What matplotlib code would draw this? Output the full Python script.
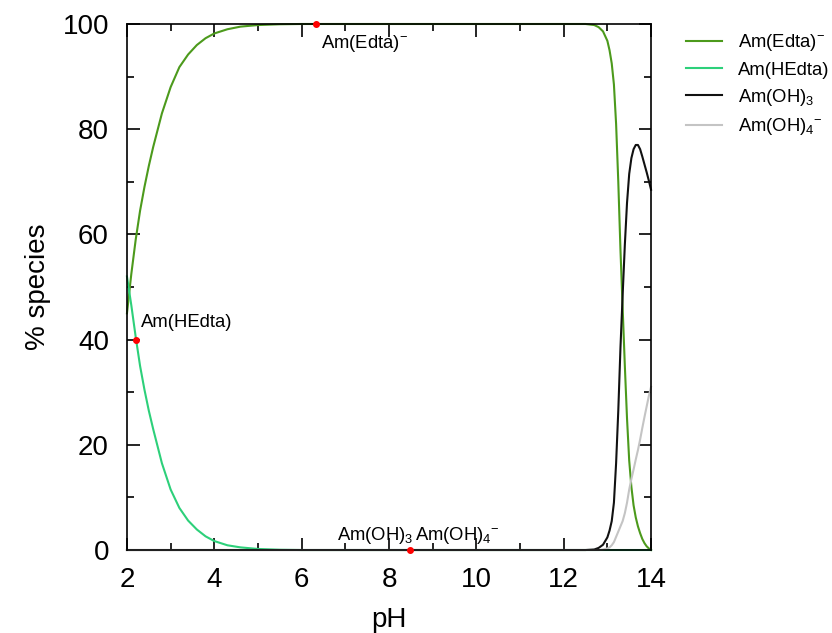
import matplotlib
matplotlib.use("Agg")
import matplotlib.pyplot as plt
from matplotlib.ticker import MultipleLocator

plt.rcParams['font.family'] = ['Liberation Sans', 'DejaVu Sans']
plt.rcParams['mathtext.fontset'] = 'custom'
plt.rcParams['mathtext.rm'] = 'Liberation Sans'
plt.rcParams['mathtext.default'] = 'regular'

# data (percent of Am species vs pH)
ph = [2.0, 2.1, 2.2, 2.3, 2.4, 2.5, 2.6, 2.8, 3.0, 3.2, 3.4, 3.6, 3.8,
      4.0, 4.3, 4.6, 5.0, 5.5, 6.0, 7.0, 8.0, 9.0, 10.0, 11.0, 12.0,
      12.5, 12.7, 12.8, 12.9, 13.0, 13.05, 13.1, 13.15, 13.2, 13.25,
      13.3, 13.35, 13.4, 13.45, 13.5, 13.55, 13.6, 13.65, 13.7, 13.75,
      13.8, 13.85, 13.9, 13.95, 14.0]

am_edta = [45, 52.5, 59, 64.5, 69, 73, 76.6, 83, 88, 91.8, 94.2, 96, 97.3,
           98.2, 99, 99.5, 99.8, 99.95, 100, 100, 100, 100, 100, 100, 100,
           100, 99.8, 99.4, 98.6, 96.8, 95, 92.5, 88.5, 81, 70,
           57, 46, 35, 25, 17, 12, 8.5, 6.2, 4.5, 3.2,
           2.1, 1.3, 0.7, 0.3, 0]

am_hedta = [52, 46.5, 40.5, 35, 30.5, 26.5, 23, 16.5, 11.5, 8, 5.6, 3.9, 2.6,
            1.7, 0.9, 0.5, 0.2, 0.05, 0, 0, 0, 0, 0, 0, 0,
            0, 0, 0, 0, 0, 0, 0, 0, 0, 0,
            0, 0, 0, 0, 0, 0, 0, 0, 0, 0,
            0, 0, 0, 0, 0]

am_oh3 = [0, 0, 0, 0, 0, 0, 0, 0, 0, 0, 0, 0, 0,
          0, 0, 0, 0, 0, 0, 0, 0, 0, 0, 0, 0,
          0, 0.1, 0.4, 1.0, 2.4, 3.7, 5.5, 9, 16.5, 26.5,
          38.5, 48.5, 58, 66, 71.5, 74.5, 76.2, 77, 77, 76.2,
          74.8, 73.3, 71.8, 70.2, 68.5]

am_oh4 = [0, 0, 0, 0, 0, 0, 0, 0, 0, 0, 0, 0, 0,
          0, 0, 0, 0, 0, 0, 0, 0, 0, 0, 0, 0,
          0, 0, 0, 0.1, 0.3, 0.5, 0.9, 1.5, 2.5, 3.5,
          4.5, 5.5, 7, 9, 11.5, 13.5, 15.3, 17.2, 19, 21,
          23.2, 25.3, 27.3, 29.3, 31]

labels = [r'Am(Edta)$^{-}$', 'Am(HEdta)', r'Am(OH)$_{3}$', r'Am(OH)$_{4}$$^{-}$']
colors = ['#4c9a1c', '#2dd07a', '#111111', '#c4c4c4']

# label anchor points (red dots)
dot_x = [6.33, 2.21, 8.48]
dot_y = [100, 40, 0]

fig = plt.figure(figsize=(8.32, 6.33), dpi=100)
ax = fig.add_axes([0.1526, 0.1311, 0.6299, 0.831])

for ys, lab, col in zip([am_edta, am_hedta, am_oh3, am_oh4], labels, colors):
    ax.plot(ph, ys, color=col, lw=1.5, label=lab, clip_on=False)

ax.plot(dot_x, dot_y, 'o', color='red', ms=4, clip_on=False, zorder=5)

fs = 13.3
ax.text(6.44, 96.3, labels[0], fontsize=fs, va='center', ha='left')
ax.text(2.32, 43.3, labels[1], fontsize=fs, va='center', ha='left')
ax.text(8.57, 2.8, labels[2], fontsize=fs, va='center', ha='right')
ax.text(8.6, 2.8, labels[3], fontsize=fs, va='center', ha='left')

ax.set_xlim(2, 14)
ax.set_ylim(0, 100)
ax.xaxis.set_major_locator(MultipleLocator(2))
ax.xaxis.set_minor_locator(MultipleLocator(1))
ax.yaxis.set_major_locator(MultipleLocator(20))
ax.yaxis.set_minor_locator(MultipleLocator(10))
ax.tick_params(which='both', direction='in', top=True, right=True, width=1.2)
ax.tick_params(which='major', length=9, labelsize=20)
ax.tick_params(axis='x', which='major', pad=12)
ax.tick_params(axis='y', which='major', pad=13)
ax.tick_params(which='minor', length=5)
for s in ax.spines.values():
    s.set_linewidth(1.2)

ax.set_xlabel('pH', fontsize=20, labelpad=10)
ax.set_ylabel('% species', fontsize=20, labelpad=8)

fig.legend(loc='upper left', bbox_to_anchor=(0.8245, 0.949), frameon=False,
           borderpad=0, borderaxespad=0, fontsize=fs, handlelength=1.95,
           handletextpad=0.85, labelspacing=0.45)

fig.savefig('out.png', dpi=100)
